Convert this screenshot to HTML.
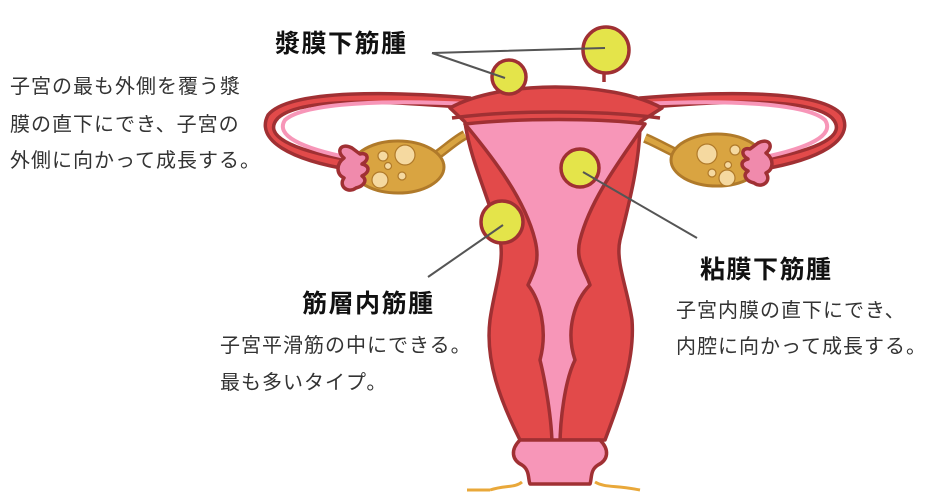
<!DOCTYPE html>
<html><head><meta charset="utf-8"><style>
html,body{margin:0;padding:0;background:#fff;width:947px;height:504px;overflow:hidden}
svg{position:absolute;left:0;top:0}
.t{font-family:"Liberation Sans","Noto Sans CJK JP",sans-serif;font-size:20px;letter-spacing:1px;fill:#333}
.b{font-family:"Liberation Sans","Noto Sans CJK JP",sans-serif;font-size:25px;letter-spacing:1.5px;font-weight:bold;fill:#111}
</style></head><body>
<svg width="947" height="504" viewBox="0 0 947 504">
<g stroke="#a03033" stroke-width="3.5" stroke-linejoin="round">
<!-- tubes -->
<path d="M470,108 C380,100 300,98 278,118 C262,135 290,150 350,160 L352,170 C290,160 255,140 268,115 C290,88 400,92 470,98 Z" fill="#e24a4a"/>
<path d="M470,104 C390,100 305,102 285,120 C275,135 300,148 350,158" fill="none" stroke="#f796b8" stroke-width="4"/>
<path d="M640,108 C730,100 810,98 832,118 C848,135 820,150 760,160 L758,170 C820,160 855,140 842,115 C820,88 710,92 640,98 Z" fill="#e24a4a"/>
<path d="M640,104 C720,100 805,102 825,120 C835,135 810,148 760,158" fill="none" stroke="#f796b8" stroke-width="4"/>
<!-- ovary ligaments -->
<path d="M430,160 C445,150 455,140 465,135" stroke="#b07a2a" stroke-width="10" fill="none"/>
<path d="M430,160 C445,150 455,140 465,135" stroke="#d9a441" stroke-width="5" fill="none"/>
<path d="M680,155 C665,148 655,142 645,138" stroke="#b07a2a" stroke-width="10" fill="none"/>
<path d="M680,155 C665,148 655,142 645,138" stroke="#d9a441" stroke-width="5" fill="none"/>
<!-- ovaries -->
<ellipse cx="398" cy="167" rx="46" ry="26" fill="#d9a441" stroke="#b07a2a" stroke-width="3"/>
<ellipse cx="717" cy="160" rx="46" ry="26" fill="#d9a441" stroke="#b07a2a" stroke-width="3"/>
<!-- fimbriae -->
<path d="M352,148 C340,142 336,152 344,158 C336,164 336,174 344,178 C338,186 348,194 356,188 C364,186 368,180 362,176 C370,172 370,166 362,164 C370,160 368,152 360,154 Z" fill="#f08aac"/>
<path d="M758,143 C770,137 774,147 766,153 C774,159 774,169 766,173 C772,181 762,189 754,183 C746,181 742,175 748,171 C740,167 740,161 748,159 C740,155 742,147 750,149 Z" fill="#f08aac"/>
<!-- uterus body + cervix -->
<path d="M450,108 C500,80 610,80 662,108 L640,122 C640,160 630,200 620,240 C615,262 628,290 632,320 C635,360 620,400 605,440 L520,440 C500,400 485,360 490,320 C494,290 505,262 500,240 C490,200 470,160 465,122 Z" fill="#e24a4a"/>
<path d="M452,118 C510,110 600,110 660,118" fill="none"/>
<path d="M465,124 C520,118 600,118 645,124 C620,160 590,200 580,240 C575,260 585,270 590,285 C575,300 565,330 575,360 C565,380 560,420 560,446 L552,446 C552,420 545,380 540,360 C548,330 540,300 528,285 C535,270 540,260 535,240 C525,200 495,160 465,124 Z" fill="#f796b8"/>
<path d="M520,440 C510,450 512,460 522,465 C530,470 528,480 530,484 L590,484 C592,478 590,470 598,465 C608,460 610,450 600,440 Z" fill="#f796b8"/>
<!-- fibroids -->
<circle cx="509" cy="77" r="17" fill="#e4e44a"/>
<path d="M604,68 L604,82" fill="none"/>
<circle cx="606" cy="50" r="23" fill="#e4e44a"/>
<circle cx="502" cy="222" r="21" fill="#e4e44a"/>
<circle cx="580" cy="168" r="19" fill="#e4e44a"/>
</g>
<!-- ovary follicles -->
<g fill="#f5d9a0" stroke="#b07a2a" stroke-width="1.2">
<circle cx="383" cy="156" r="5"/><circle cx="405" cy="155" r="10"/><circle cx="388" cy="166" r="3.5"/><circle cx="380" cy="180" r="8"/><circle cx="402" cy="176" r="4"/>
<circle cx="735" cy="150" r="5"/><circle cx="707" cy="154" r="10"/><circle cx="728" cy="165" r="3.5"/><circle cx="727" cy="178" r="8"/><circle cx="712" cy="173" r="4"/>
</g>
<path d="M490,490 C505,485 515,488 522,482 M595,482 C605,488 615,485 640,490 M467,490 L490,490" stroke="#e9a83a" stroke-width="3" fill="none"/>
<!-- leader lines -->
<g stroke="#555" stroke-width="2" fill="none">
<path d="M432,53 L605,48 M432,53 L505,78 M503,225 L428,277 M583,172 L697,238"/>
</g>
<text class="b" x="275" y="52">漿膜下筋腫</text>
<text class="t" x="10" y="93">子宮の最も外側を覆う漿</text>
<text class="t" x="10" y="131">膜の直下にでき、子宮の</text>
<text class="t" x="10" y="167">外側に向かって成長する。</text>
<text class="b" x="302" y="312">筋層内筋腫</text>
<text class="t" x="220" y="352">子宮平滑筋の中にできる。</text>
<text class="t" x="220" y="389">最も多いタイプ。</text>
<text class="b" x="700" y="278">粘膜下筋腫</text>
<text class="t" x="676" y="317">子宮内膜の直下にでき、</text>
<text class="t" x="676" y="353">内腔に向かって成長する。</text>
</svg>
</body></html>
